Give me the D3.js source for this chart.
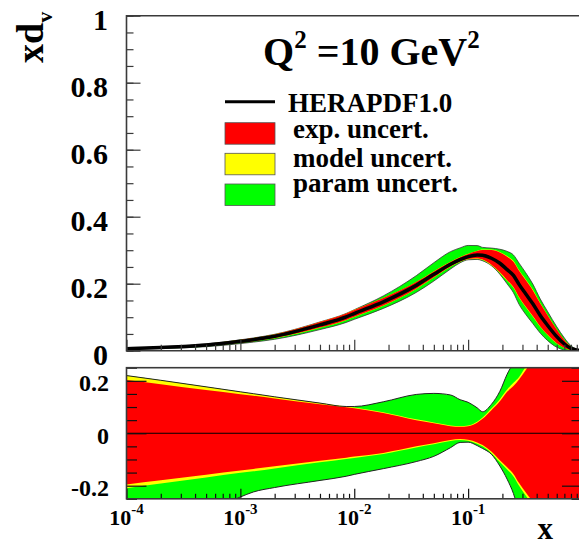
<!DOCTYPE html>
<html>
<head>
<meta charset="utf-8">
<script src="https://cdn.jsdelivr.net/npm/d3@7"></script>
<style>
  html, body { margin: 0; padding: 0; background: #fff; }
  svg { display: block; }
  text { font-family: "Liberation Serif", "Times New Roman", serif; font-weight: bold; fill: #000; }
</style>
</head>
<body>
<svg id="chart" width="579" height="546"></svg>
<script>
// x grid of the PDF evaluation
const xs = [1e-4, 2e-4, 5e-4, 1e-3, 1.3e-3, 2e-3, 5e-3, 0.0085, 0.01, 0.018, 0.035, 0.05, 0.07, 0.085,
            0.1, 0.12, 0.134, 0.16, 0.19, 0.22, 0.25, 0.28, 0.32, 0.37, 0.43, 0.5, 0.6, 0.7, 0.8, 0.9, 1.0];

// central xd_v at Q^2 = 10 GeV^2
const central = [0.006, 0.0095, 0.017, 0.028, 0.033, 0.043, 0.077, 0.101, 0.111, 0.146, 0.195, 0.228, 0.258, 0.272,
                 0.281, 0.286, 0.285, 0.276, 0.261, 0.242, 0.225, 0.198, 0.17, 0.14, 0.105, 0.075, 0.042, 0.02, 0.007, 0.002, 0];

// fractional uncertainty edges: experimental
const expUp = [0.203, 0.187, 0.165, 0.149, 0.143, 0.133, 0.111, 0.099, 0.095, 0.077, 0.05, 0.038, 0.027, 0.025,
               0.027, 0.04, 0.055, 0.088, 0.122, 0.158, 0.18, 0.205, 0.24, 0.285, 0.34, 0.4, 0.5, 0.6, 0.7, 0.8, 0.9];
const expDn = [-0.195, -0.179, -0.158, -0.142, -0.136, -0.126, -0.105, -0.093, -0.089, -0.075, -0.05, -0.038, -0.026, -0.022,
               -0.025, -0.035, -0.045, -0.07, -0.103, -0.13, -0.155, -0.19, -0.225, -0.262, -0.31, -0.37, -0.47, -0.58, -0.7, -0.8, -0.9];

// experimental + model
const modUp = [0.22, 0.202, 0.177, 0.158, 0.151, 0.139, 0.115, 0.102, 0.098, 0.08, 0.053, 0.041, 0.03, 0.028,
               0.03, 0.044, 0.06, 0.094, 0.13, 0.167, 0.193, 0.215, 0.255, 0.305, 0.355, 0.415, 0.515, 0.62, 0.72, 0.82, 0.92];
const modDn = [-0.21, -0.192, -0.169, -0.151, -0.145, -0.134, -0.111, -0.098, -0.094, -0.079, -0.054, -0.042, -0.03, -0.026,
               -0.029, -0.04, -0.05, -0.076, -0.11, -0.138, -0.165, -0.2, -0.237, -0.277, -0.325, -0.385, -0.485, -0.6, -0.72, -0.82, -0.92];

// experimental + model + parametrisation (total)
const totUp = [0.22, 0.202, 0.177, 0.158, 0.151, 0.139, 0.115, 0.102, 0.102, 0.12, 0.148, 0.152, 0.146, 0.128,
               0.118, 0.097, 0.082, 0.11, 0.16, 0.225, 0.27, 0.32, 0.37, 0.42, 0.47, 0.55, 0.7, 0.9, 1.1, 1.3, 1.5];
const totDn = [-0.35, -0.33, -0.3, -0.243, -0.224, -0.207, -0.18, -0.164, -0.157, -0.135, -0.108, -0.088, -0.055, -0.035,
               -0.034, -0.047, -0.058, -0.08, -0.125, -0.175, -0.23, -0.3, -0.36, -0.42, -0.5, -0.6, -0.75, -0.9, -1.1, -1.3, -1.5];

const decades = [1e-4, 1e-3, 1e-2, 1e-1];
const decadeExp = ["-4", "-3", "-2", "-1"];
const topYTicks = [0, 0.2, 0.4, 0.6, 0.8, 1];
const topYLabels = ["0", "0.2", "0.4", "0.6", "0.8", "1"];
const botYTicks = [-0.2, 0, 0.2];
const botYLabels = ["-0.2", "0", "0.2"];

const legendLabels = ["HERAPDF1.0", "exp. uncert.", "model uncert.", "param uncert."];
const bandColors = { exp: "#ff0000", mod: "#ffff00", tot: "#00ff00" };

const svg = d3.select("#chart");

const x = d3.scaleLog().domain([1e-4, 1]).range([126.5, 582]);
const yTop = d3.scaleLinear().domain([0, 1]).range([350.7, 15.7]);
const yBot = d3.scaleLinear().domain([-0.25, 0.25]).range([498.8, 367.7]);

const minorX = [];
decades.forEach(d => { for (let k = 2; k <= 9; k++) minorX.push(d * k); });

const frameColor = "#3a3a3a";

// ---------- upper panel ----------
const upper = svg.append("g");
svg.append("clipPath").attr("id", "clipTop")
  .append("rect").attr("x", 126.5).attr("y", 15.7).attr("width", 582 - 126.5).attr("height", 350.7 - 15.7);

const idx = d3.range(xs.length);
const absBand = (up, dn) => idx.map(i => ({
  x: xs[i],
  hi: central[i] * (1 + up[i]),
  lo: Math.max(0, central[i] * (1 + dn[i]))
}));

const areaTop = d3.area().curve(d3.curveMonotoneX)
  .x(d => x(d.x)).y0(d => yTop(d.lo)).y1(d => yTop(d.hi));
const edgeTop = key => d3.line().curve(d3.curveMonotoneX).x(d => x(d.x)).y(d => yTop(d[key]));

const topBands = upper.append("g").attr("clip-path", "url(#clipTop)");
const totBand = absBand(totUp, totDn);
topBands.append("path").datum(totBand).attr("d", areaTop).attr("fill", bandColors.tot);
topBands.append("path").datum(totBand).attr("d", edgeTop("hi")).attr("fill", "none").attr("stroke", "#333").attr("stroke-width", 0.8);
topBands.append("path").datum(totBand).attr("d", edgeTop("lo")).attr("fill", "none").attr("stroke", "#333").attr("stroke-width", 0.8);
topBands.append("path").datum(absBand(modUp, modDn)).attr("d", areaTop).attr("fill", bandColors.mod);
topBands.append("path").datum(absBand(expUp, expDn)).attr("d", areaTop).attr("fill", bandColors.exp);
topBands.append("path").datum(idx.map(i => ({ x: xs[i], v: central[i] })))
  .attr("d", d3.line().curve(d3.curveMonotoneX).x(d => x(d.x)).y(d => yTop(d.v)))
  .attr("fill", "none").attr("stroke", "#000").attr("stroke-width", 3.5);

// upper panel axes
const topXMajor = d3.axisBottom(x).tickValues(decades).tickSize(-11).tickFormat("");
const topXMinor = d3.axisBottom(x).tickValues(minorX).tickSize(-6).tickFormat("");
upper.append("g").attr("transform", "translate(0,350.7)").call(topXMajor);
upper.append("g").attr("transform", "translate(0,350.7)").call(topXMinor);

const topYMinor = d3.axisLeft(yTop).tickValues(d3.range(0, 1.0001, 0.05)).tickSize(-7).tickFormat("");
const topYMajor = d3.axisLeft(yTop).tickValues(topYTicks).tickSize(-14).tickPadding(18.5)
  .tickFormat((d, i) => topYLabels[i]);
upper.append("g").attr("transform", "translate(126.5,0)").call(topYMinor);
const tya = upper.append("g").attr("transform", "translate(126.5,0)").call(topYMajor);
tya.selectAll("text").attr("font-size", 30).attr("dy", "0.45em")
  .style("font-family", "'Liberation Serif', serif").style("font-weight", "bold");

upper.selectAll(".domain").remove();
upper.selectAll(".tick line").attr("stroke", frameColor).attr("stroke-width", 1.2);

upper.append("path")
  .attr("d", `M582,15.7 H126.5 V350.7 H582`)
  .attr("fill", "none").attr("stroke", frameColor).attr("stroke-width", 1.6);

// y title
const yt = svg.append("text").attr("transform", "translate(43,63) rotate(-90)")
  .attr("font-size", 38).attr("text-anchor", "start");
yt.append("tspan").text("xd");
yt.append("tspan").attr("font-size", 22).attr("dy", 9).text("v");

// title
const title = svg.append("text").attr("x", 263).attr("y", 65).attr("font-size", 40);
title.append("tspan").text("Q");
title.append("tspan").attr("font-size", 25).attr("dy", -17).text("2");
title.append("tspan").attr("dy", 17).text(" =10 GeV");
title.append("tspan").attr("font-size", 25).attr("dy", -17).text("2");

// legend
const lg = svg.append("g");
lg.append("line").attr("x1", 225).attr("x2", 275).attr("y1", 101.7).attr("y2", 101.7)
  .attr("stroke", "#000").attr("stroke-width", 3);
const boxes = [
  { c: bandColors.exp, y: 122.7 },
  { c: bandColors.mod, y: 153.3 },
  { c: bandColors.tot, y: 184 }
];
lg.selectAll("rect.box").data(boxes).enter().append("rect").attr("class", "box")
  .attr("x", 225).attr("y", d => d.y).attr("width", 50).attr("height", 21.5)
  .attr("fill", d => d.c).attr("stroke", "#555").attr("stroke-width", 0.8);
const legendPos = [{ x: 288, y: 111.7 }, { x: 293, y: 138.3 }, { x: 293, y: 166.7 }, { x: 293, y: 191.7 }];
lg.selectAll("text").data(legendLabels).enter().append("text")
  .attr("x", (d, i) => legendPos[i].x).attr("y", (d, i) => legendPos[i].y)
  .attr("font-size", 27).text(d => d);

// ---------- ratio panel ----------
const lower = svg.append("g");
svg.append("clipPath").attr("id", "clipBot")
  .append("rect").attr("x", 126.5).attr("y", 367.7).attr("width", 582 - 126.5).attr("height", 498.8 - 367.7);

const relBand = (up, dn) => idx.map(i => ({ x: xs[i], hi: up[i], lo: dn[i] }));
const areaBot = d3.area().curve(d3.curveMonotoneX)
  .x(d => x(d.x)).y0(d => yBot(d.lo)).y1(d => yBot(d.hi));
const edgeBot = key => d3.line().curve(d3.curveMonotoneX).x(d => x(d.x)).y(d => yBot(d[key]));

const botBands = lower.append("g").attr("clip-path", "url(#clipBot)");
const totRel = relBand(totUp, totDn);
botBands.append("path").datum(totRel).attr("d", areaBot).attr("fill", bandColors.tot);
botBands.append("path").datum(relBand(modUp, modDn)).attr("d", areaBot).attr("fill", bandColors.mod);
botBands.append("path").datum(relBand(expUp, expDn)).attr("d", areaBot).attr("fill", bandColors.exp);
botBands.append("path").datum(totRel).attr("d", edgeBot("hi")).attr("fill", "none").attr("stroke", "#222").attr("stroke-width", 1);
botBands.append("path").datum(totRel).attr("d", edgeBot("lo")).attr("fill", "none").attr("stroke", "#222").attr("stroke-width", 1);
botBands.append("line").attr("x1", 126.5).attr("x2", 582).attr("y1", yBot(0)).attr("y2", yBot(0))
  .attr("stroke", "#000").attr("stroke-width", 1);

// ratio panel axes
const botAxes = lower.append("g");
botAxes.append("g").attr("transform", "translate(0,498.8)")
  .call(d3.axisBottom(x).tickValues(decades).tickSize(-10).tickFormat(""));
botAxes.append("g").attr("transform", "translate(0,498.8)")
  .call(d3.axisBottom(x).tickValues(minorX).tickSize(-5).tickFormat(""));

const botMinorY = d3.range(-0.25, 0.2501, 0.05).filter(v => Math.abs(Math.abs(v) - 0.2) > 1e-6 && Math.abs(v) > 1e-6);
botAxes.append("g").attr("transform", "translate(126.5,0)")
  .call(d3.axisLeft(yBot).tickValues(botMinorY).tickSize(-10.5).tickFormat(""));
botAxes.append("g").attr("transform", "translate(582,0)")
  .call(d3.axisRight(yBot).tickValues(botMinorY).tickSize(-10.5).tickFormat(""));
botAxes.append("g").attr("transform", "translate(582,0)")
  .call(d3.axisRight(yBot).tickValues(botYTicks).tickSize(-20).tickFormat(""));
const bya = botAxes.append("g").attr("transform", "translate(126.5,0)")
  .call(d3.axisLeft(yBot).tickValues(botYTicks).tickSize(-20).tickPadding(17.5)
    .tickFormat((d, i) => botYLabels[i]));
bya.selectAll("text").attr("font-size", 24).attr("dy", "0.42em")
  .style("font-family", "'Liberation Serif', serif").style("font-weight", "bold");

botAxes.selectAll(".domain").remove();
botAxes.selectAll(".tick line").attr("stroke", "#111").attr("stroke-width", 1.2);

lower.append("rect").attr("x", 126.5).attr("y", 367.7).attr("width", 582 - 126.5).attr("height", 498.8 - 367.7)
  .attr("fill", "none").attr("stroke", frameColor).attr("stroke-width", 1.6);

// x tick labels with exponents
const xl = svg.append("g");
decades.forEach((d, i) => {
  const t = xl.append("text").attr("x", x(d)).attr("y", 525).attr("font-size", 22).attr("text-anchor", "middle");
  t.append("tspan").text("10");
  t.append("tspan").attr("font-size", 15).attr("dy", -11).text(decadeExp[i]);
});

// x title
svg.append("text").attr("x", 553).attr("y", 539).attr("font-size", 31).attr("text-anchor", "end").text("x");
</script>
</body>
</html>
